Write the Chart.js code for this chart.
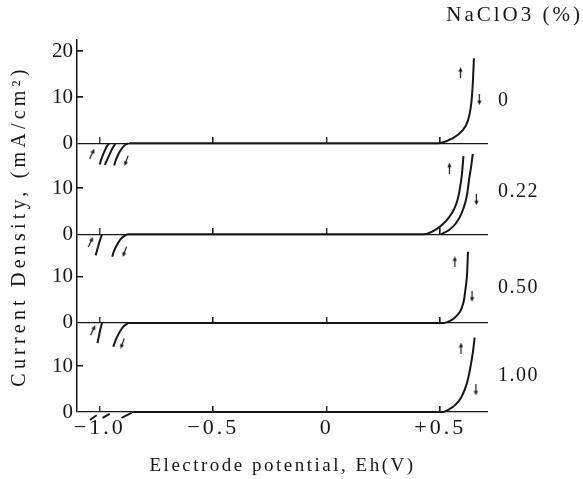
<!DOCTYPE html>
<html><head><meta charset="utf-8">
<script src="https://cdn.jsdelivr.net/npm/chart.js@4/dist/chart.umd.min.js"></script>
<style>html,body{margin:0;padding:0;background:#fff}</style>
</head><body>
<canvas id="c" width="583" height="479"></canvas>
<script>
// ================= DATA =================
// Panels (top to bottom): NaClO3 concentration (%)
const concentrations = ['0', '0.22', '0.50', '1.00'];

// Potential axis (V)
const xTickValues = [-1.0, -0.5, 0, 0.5];
const xTickLabels = ['\u22121.0', '\u22120.5', '0', '+0.5'];

// Current density ticks of each panel (mA/cm²)
const yTickValues = [[0, 10, 20], [0, 10], [0, 10], [0, 10]];

// Anodic branches: potential E (V) and current density I (mA/cm²)
const p0_E   = [-0.87, 0.49, 0.55, 0.598, 0.622, 0.633, 0.639, 0.644, 0.648];
const p0_I   = [0, 0, 1.0, 2.8, 5.0, 7.5, 10, 14, 18.5];
const p22f_E = [-0.879, 0.431, 0.48, 0.513, 0.54, 0.561, 0.576, 0.586, 0.595, 0.602];
const p22f_I = [0, 0, 1.0, 2.3, 3.8, 5.5, 7.5, 9.9, 13, 17];
const p22r_E = [0.504, 0.54, 0.569, 0.592, 0.610, 0.619, 0.626, 0.635, 0.643];
const p22r_I = [0, 1.0, 2.4, 4.4, 6.9, 9.0, 11.7, 14.5, 17.5];
const p50_E  = [-0.874, 0.515, 0.545, 0.567, 0.585, 0.596, 0.605, 0.61, 0.615, 0.618, 0.622];
const p50_I  = [0, 0, 0.5, 1.3, 2.3, 3.5, 5.2, 7.1, 9.0, 10.8, 15.5];
const p100_E = [-0.86, 0.508, 0.54, 0.567, 0.59, 0.61, 0.622, 0.632, 0.644, 0.651];
const p100_I = [0, 0, 0.6, 1.6, 3.0, 5.2, 7.2, 9.6, 13.2, 16.2];

// Cathodic branches (hatched strokes below each zero line)
const p0_cA_E  = [-1.0, -0.993, -0.983, -0.97, -0.958];
const p0_cA_I  = [-4.6, -3.5, -2.2, -0.8, 0];
const p0_cM_E  = [-0.978, -0.962, -0.945, -0.93];
const p0_cM_I  = [-4.7, -3.0, -1.2, 0];
const p0_cB_E  = [-0.936, -0.93, -0.92, -0.905, -0.89, -0.874];
const p0_cB_I  = [-4.8, -3.8, -2.6, -1.3, -0.4, 0];
const p22_cA_E = [-1.018, -1.01, -1.0, -0.99];
const p22_cA_I = [-4.6, -3.2, -1.5, 0];
const p22_cB_E = [-0.945, -0.938, -0.925, -0.905, -0.879];
const p22_cB_I = [-4.9, -3.8, -2.4, -0.9, 0];
const p50_cA_E = [-1.01, -1.004, -0.997, -0.99];
const p50_cA_I = [-4.4, -3.0, -1.4, 0];
const p50_cB_E = [-0.94, -0.932, -0.918, -0.898, -0.874];
const p50_cB_I = [-5.2, -4.0, -2.5, -0.9, 0];
const p100_cA_E = [-0.987, -0.956];
const p100_cA_I = [-1.3, -0.4];
const p100_cB_E = [-0.904, -0.86];
const p100_cB_I = [-1.3, -0.2];
const p100_cM_E = [-1.043, -1.013];
const p100_cM_I = [-1.7, -0.7];

// Scan-direction arrows (E, I) per panel
const arrowUp_E   = [0.589, 0.54, 0.564, 0.591];
const arrowUp_I   = [15.4, 14.4, 13.3, 13.9];
const arrowDown_E = [0.672, 0.659, 0.64, 0.657];
const arrowDown_I = [9.5, 7.5, 5.8, 4.8];
const cathMarkL_E = [-1.034, -1.04, -1.03];
const cathMarkL_I = [-2.3, -1.7, -1.6];
const cathMarkR_E = [-0.883, -0.89, -0.90];
const cathMarkR_I = [-3.8, -3.8, -4.5];

// ================= LAYOUT =================
const PANEL_ZERO = [58.5, 38.7, 19.4, 0];   // where each panel's 0 sits on the shared axis
const LABEL_LEVEL = [9.3, 9.2, 7.6, 7.8];   // height of the concentration label in each panel
const X_MIN = -1.1, X_MAX = 0.71, Y_MIN = 0, Y_MAX = 81;
const INK = '#161616';
const FONT = 'Liberation Serif';

// ================= HELPERS =================
function pts(E, I, k) { return E.map((e, i) => ({ x: e, y: I[i] + PANEL_ZERO[k] })); }
function mkCanvas(w, h, fn) { const c = document.createElement('canvas'); c.width = w; c.height = h; const g = c.getContext('2d'); g.fillStyle = INK; fn(g); return c; }
const arrowImg = mkCanvas(5, 11, g => { g.beginPath(); g.moveTo(2.5, 0); g.lineTo(4.6, 4.6); g.lineTo(0.4, 4.6); g.closePath(); g.fill(); g.fillRect(1.9, 3, 1.2, 8); });
const tickUpImg = mkCanvas(2, 12, g => g.fillRect(0, 0, 1.4, 6));
const tickRightImg = mkCanvas(12, 2, g => g.fillRect(6, 0, 6, 1.4));

const SPACING = { x: { labels: 3, title: 2.5 }, y: { labels: 0, title: 4.2 }, y2: { labels: 1.5, title: 0 } };
class SpacedLinearScale extends Chart.LinearScale {
  drawLabels(a) { const c = this.ctx; c.save(); c.letterSpacing = SPACING[this.id].labels + 'px'; super.drawLabels(a); c.restore(); }
  drawTitle() { const c = this.ctx; c.save(); c.letterSpacing = SPACING[this.id].title + 'px'; super.drawTitle(); c.restore(); }
}
SpacedLinearScale.id = 'spacedLinear';
SpacedLinearScale.defaults = Chart.LinearScale.defaults;
Chart.register(SpacedLinearScale);

const spacingPlugin = { id: 'spacing', beforeDraw(chart) { chart.ctx.letterSpacing = '3px'; } };

// ================= DATASETS =================
const lineStyle = { showLine: true, pointRadius: 0, borderColor: INK, borderWidth: 2, fill: false, clip: false, cubicInterpolationMode: 'monotone' };
const datasets = [];
const curves = [
  [p0_E, p0_I, 0], [p22f_E, p22f_I, 1], [p22r_E, p22r_I, 1], [p50_E, p50_I, 2], [p100_E, p100_I, 3],
  [p0_cA_E, p0_cA_I, 0], [p0_cM_E, p0_cM_I, 0], [p0_cB_E, p0_cB_I, 0],
  [p22_cA_E, p22_cA_I, 1], [p22_cB_E, p22_cB_I, 1],
  [p50_cA_E, p50_cA_I, 2], [p50_cB_E, p50_cB_I, 2],
  [p100_cA_E, p100_cA_I, 3], [p100_cB_E, p100_cB_I, 3], [p100_cM_E, p100_cM_I, 3]
];
curves.forEach(([E, I, k]) => datasets.push(Object.assign({ data: pts(E, I, k) }, lineStyle)));

// arrows
const markStyle = { pointStyle: arrowImg, pointRadius: 3, showLine: false, clip: false };
datasets.push(Object.assign({ data: arrowUp_E.map((e, k) => ({ x: e, y: arrowUp_I[k] + PANEL_ZERO[k] })), pointRotation: 0 }, markStyle));
datasets.push(Object.assign({ data: arrowDown_E.map((e, k) => ({ x: e, y: arrowDown_I[k] + PANEL_ZERO[k] })), pointRotation: 180 }, markStyle));
datasets.push(Object.assign({ data: cathMarkL_E.map((e, k) => ({ x: e, y: cathMarkL_I[k] + PANEL_ZERO[k] })), pointRotation: 25 }, markStyle));
datasets.push(Object.assign({ data: cathMarkR_E.map((e, k) => ({ x: e, y: cathMarkR_I[k] + PANEL_ZERO[k] })), pointRotation: 200 }, markStyle));

// small upward potential ticks on every zero line
const xMarks = [];
PANEL_ZERO.forEach(z => xTickValues.forEach(v => xMarks.push({ x: v, y: z })));
datasets.push({ data: xMarks, pointStyle: tickUpImg, pointRadius: 3, showLine: false, clip: false });

// inward current ticks on the left axis
const yTicks = [];
yTickValues.forEach((vals, k) => vals.forEach(v => yTicks.push({ value: v + PANEL_ZERO[k], label: String(v), zero: v === 0 })));
datasets.push({ data: yTicks.filter(t => !t.zero).map(t => ({ x: X_MIN, y: t.value })), pointStyle: tickRightImg, pointRadius: 3, showLine: false, clip: false });

const labelTicks = concentrations.map((c, k) => ({ value: PANEL_ZERO[k] + LABEL_LEVEL[k], label: c }));

Chart.defaults.font.family = FONT;
Chart.defaults.color = INK;

new Chart(document.getElementById('c'), {
  type: 'scatter',
  data: { datasets },
  plugins: [spacingPlugin],
  options: {
    responsive: false, animation: false, events: [],
    layout: { padding: 0 },
    plugins: {
      legend: { display: false }, tooltip: { enabled: false },
      title: { display: true, text: 'NaClO3 (%)', align: 'end', font: { size: 21, weight: 'normal' }, padding: { top: 3, bottom: 11.8 }, color: INK }
    },
    scales: {
      x: {
        type: 'spacedLinear', min: X_MIN, max: X_MAX,
        afterBuildTicks: s => { s.ticks = xTickValues.map(v => ({ value: v })); },
        afterFit: s => { s.height = 67; },
        grid: { display: false, drawTicks: false }, border: { display: false },
        ticks: { autoSkip: false, maxRotation: 0, padding: 3, font: { size: 22 }, callback: (v, i) => xTickLabels[i] },
        title: { display: true, text: 'Electrode potential, Eh(V)', font: { size: 19 }, padding: { top: 0, bottom: 2 } }
      },
      y: {
        type: 'spacedLinear', position: 'left', min: Y_MIN, max: Y_MAX,
        afterBuildTicks: s => { s.ticks = yTicks.map(t => ({ value: t.value })); },
        afterFit: s => { s.width = 77; },
        grid: { drawTicks: false, lineWidth: 1.3, color: c => (c.tick && yTicks.some(t => t.zero && Math.abs(t.value - c.tick.value) < 1e-6)) ? INK : 'rgba(0,0,0,0)' },
        border: { display: true, color: INK, width: 1.5 },
        ticks: { autoSkip: false, padding: 4, font: { size: 21 }, callback: (v, i) => yTicks[i].label },
        title: { display: true, text: 'Current Density, (mA/cm\u00B2)', font: { size: 20 }, padding: { top: 8, bottom: 0 } }
      },
      y2: {
        type: 'spacedLinear', position: 'right', min: Y_MIN, max: Y_MAX,
        afterBuildTicks: s => { s.ticks = labelTicks.map(t => ({ value: t.value })); },
        afterFit: s => { s.width = 95; },
        grid: { display: false, drawTicks: false }, border: { display: false },
        ticks: { autoSkip: false, padding: 10, font: { size: 20 }, callback: (v, i) => labelTicks[i].label }
      }
    }
  }
});
</script>
</body></html>
